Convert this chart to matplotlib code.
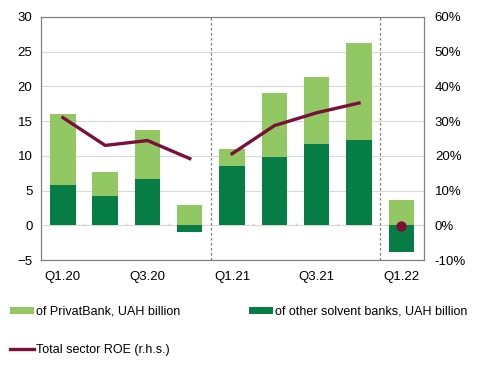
import matplotlib.pyplot as plt
import matplotlib.ticker as ticker
import numpy as np

plt.rcParams["font.family"] = ["Liberation Sans", "DejaVu Sans"]

# Data
quarters = ["Q1.20", "Q2.20", "Q3.20", "Q4.20", "Q1.21", "Q2.21", "Q3.21", "Q4.21", "Q1.22"]
other_banks = [5.75, 4.15, 6.6, -0.9, 8.6, 9.85, 11.7, 12.25, -3.9]
privatbank = [10.3, 3.55, 7.15, 2.97, 2.4, 9.15, 9.6, 13.95, 3.7]
roe = [31.0, 23.0, 24.4, 19.2, 20.6, 28.7, 32.4, 35.2, -0.2]
roe_groups = [(0, 4), (4, 8), (8, 9)]   # ROE drawn per year
year_breaks = [3.5, 7.5]

# Colours
_LIGHT = "#92C864"
_DARK = "#077D46"
_ROE = "#7B0F3A"
_GRID = "#D9D9D9"
_SPINE = "#808080"

x = np.arange(len(quarters))
other = np.array(other_banks)
privat = np.array(privatbank)
roe_arr = np.array(roe)

fig = plt.figure(figsize=(4.81, 3.83), dpi=100)
ax = fig.add_axes([0.085, 0.321, 0.796, 0.635])

ax.set_axisbelow(True)
ax.grid(axis="y", color=_GRID, linewidth=0.8)
ax.axhline(0, color=_GRID, linewidth=0.8, zorder=1)

bottom_privat = np.clip(other, 0, None)
ax.bar(x, other, width=0.6, color=_DARK, zorder=2, label="of other solvent banks, UAH billion")
ax.bar(x, privat, width=0.6, bottom=bottom_privat, color=_LIGHT, zorder=2,
       label="of PrivatBank, UAH billion")

# small category ticks on the zero line
ax.vlines(x[:-1] + 0.5, 0, 0.35, color="#C8C8C8", linewidth=0.8, zorder=1)

for xb in year_breaks:
    ax.axvline(xb, color="#808080", linestyle=(0, (2, 2)), linewidth=0.9, zorder=1)

ax.set_xlim(-0.52, 8.53)
ax.set_ylim(-5, 30)
ax.yaxis.set_major_locator(ticker.MultipleLocator(5))
ax.set_xticks(x[::2])
ax.set_xticklabels(quarters[::2])
ax.tick_params(axis="y", length=0, labelsize=9.5, colors="#000000", pad=6)
ax.tick_params(axis="x", length=0, labelsize=9.5, colors="#000000", pad=8)
for spine in ax.spines.values():
    spine.set_edgecolor(_SPINE)

ax2 = ax.twinx()
ax2.set_ylim(-10, 60)
ax2.yaxis.set_major_locator(ticker.MultipleLocator(10))
ax2.yaxis.set_major_formatter(ticker.FuncFormatter(lambda v, _p: f"{v:.0f}%"))
ax2.tick_params(axis="y", length=0, labelsize=9.5, pad=8)
for spine in ax2.spines.values():
    spine.set_edgecolor(_SPINE)

line_handle = None
for start, end in roe_groups:
    if end - start > 1:
        (line_handle,) = ax2.plot(x[start:end], roe_arr[start:end], color=_ROE,
                                  linewidth=2.4, zorder=3, label="Total sector ROE (r.h.s.)")
    else:
        ax2.plot(x[start:end], roe_arr[start:end], "o", color=_ROE, markersize=6.5, zorder=3)

h1, l1 = ax.get_legend_handles_labels()
fig.legend([h1[1], line_handle, h1[0]], [l1[1], line_handle.get_label(), l1[0]],
           loc="upper left", bbox_to_anchor=(0.01, 0.215), ncol=2, frameon=False,
           fontsize=9, handlelength=1.9, handleheight=0.45, handletextpad=0.2,
           columnspacing=5.5, labelspacing=2.1, borderaxespad=0)

fig.savefig("out.png", dpi=100)
